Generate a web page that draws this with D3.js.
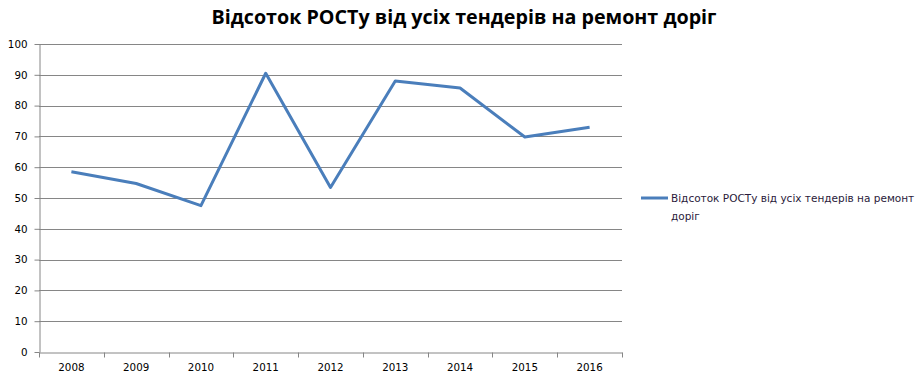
<!DOCTYPE html>
<html>
<head>
<meta charset="utf-8">
<script src="https://cdn.jsdelivr.net/npm/d3@7"></script>
<style>
  body { margin: 0; background: #fff; }
  text { font-family: "DejaVu Sans", Verdana, sans-serif; }
</style>
</head>
<body>
<div id="chart"></div>
<script>
// DATA
const years = ['2008', '2009', '2010', '2011', '2012', '2013', '2014', '2015', '2016'];
const shares = [58.5, 54.7, 47.5, 90.5, 53.4, 88.0, 85.7, 69.8, 73.0];
const yTicks = [0, 10, 20, 30, 40, 50, 60, 70, 80, 90, 100];
const seriesName = 'Відсоток РОСТу від усіх тендерів на ремонт доріг';
const titleText = 'Відсоток РОСТу від усіх тендерів на ремонт доріг';

// SETTINGS
const dimensions = { width: 921, height: 381 };
const plot = { left: 39, right: 622, top: 44, bottom: 352 };
const lineColor = '#4a7ebb';
const gridColor = '#868686';

const svg = d3.select('#chart')
    .append('svg')
    .attr('width', dimensions.width)
    .attr('height', dimensions.height);

const x = d3.scaleBand()
    .domain(years)
    .range([plot.left, plot.right]);
const y = d3.scaleLinear()
    .domain([0, 100])
    .range([plot.bottom, plot.top]);

// title
svg.append('text')
    .attr('x', 464)
    .attr('y', 24)
    .attr('text-anchor', 'middle')
    .style('font-family', '"Open Sans", "Noto Sans", sans-serif')
    .style('font-weight', 'bold')
    .style('font-size', '19.7px')
    .attr('fill', '#000')
    .text(titleText);

// gridlines
svg.append('g')
    .selectAll('line')
    .data(yTicks.filter(d => d > 0))
    .enter()
    .append('line')
    .attr('x1', plot.left)
    .attr('x2', plot.right)
    .attr('y1', d => Math.round(y(d)) + 0.5)
    .attr('y2', d => Math.round(y(d)) + 0.5)
    .attr('stroke', gridColor);

// y axis
const yAxis = svg.append('g')
    .attr('transform', `translate(${plot.left + 0.5},0)`)
    .call(d3.axisLeft(y).tickValues(yTicks).tickSize(5).tickPadding(7).tickSizeOuter(0));

// x axis
const xAxis = svg.append('g')
    .attr('transform', `translate(0,${Math.round(plot.bottom) + 0.5})`)
    .call(d3.axisBottom(x).tickSize(0).tickPadding(11));

// x ticks at category boundaries
xAxis.selectAll('.boundary')
    .data(d3.range(years.length + 1))
    .enter()
    .append('line')
    .attr('class', 'boundary')
    .attr('x1', i => Math.round(plot.left + i * x.step()) + 0.5)
    .attr('x2', i => Math.round(plot.left + i * x.step()) + 0.5)
    .attr('y1', 0)
    .attr('y2', 5)
    .attr('stroke', gridColor);

[yAxis, xAxis].forEach(ax => {
    ax.select('.domain').attr('stroke', gridColor);
    ax.selectAll('.tick line').attr('stroke', gridColor);
    ax.selectAll('.tick text')
        .attr('fill', '#000')
        .style('font-family', '"DejaVu Sans", Verdana, sans-serif')
        .style('font-size', '10.3px');
});

// line
const line = d3.line()
    .x((d, i) => x(years[i]) + x.bandwidth() / 2)
    .y(d => y(d));

svg.append('path')
    .datum(shares)
    .attr('d', line)
    .attr('fill', 'none')
    .attr('stroke', lineColor)
    .attr('stroke-width', 3)
    .attr('stroke-linejoin', 'round');

// legend
const legend = svg.append('g').attr('transform', 'translate(641,198)');
legend.append('line')
    .attr('x1', 0).attr('x2', 27)
    .attr('y1', 0).attr('y2', 0)
    .attr('stroke', lineColor)
    .attr('stroke-width', 3);
const words = seriesName.split(' ');
const lines = [words.slice(0, -1).join(' '), words[words.length - 1]];
legend.append('text')
    .attr('x', 30)
    .attr('y', 4)
    .style('font-family', '"DejaVu Sans", Verdana, sans-serif')
    .style('font-size', '10.5px')
    .attr('fill', '#2a1a3a')
    .selectAll('tspan')
    .data(lines)
    .enter()
    .append('tspan')
    .attr('x', 30)
    .attr('dy', (d, i) => i === 0 ? 0 : 18)
    .text(d => d);
</script>
</body>
</html>
